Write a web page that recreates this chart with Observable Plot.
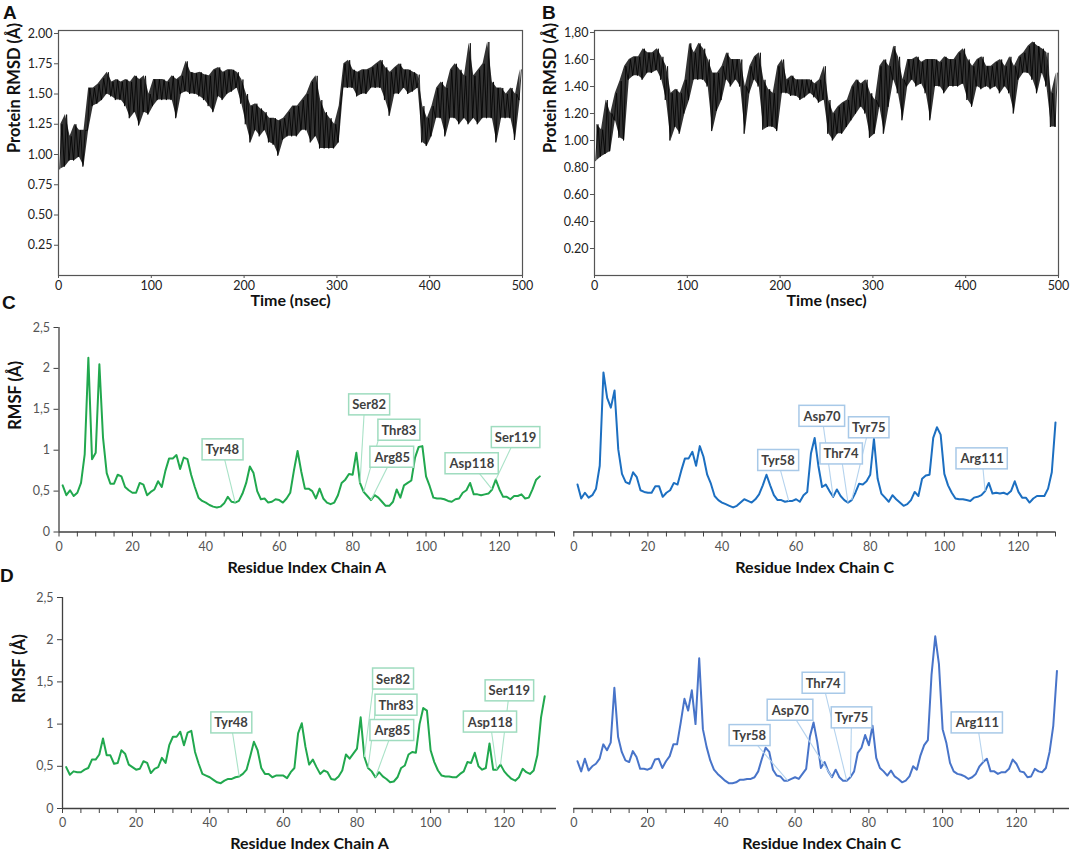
<!DOCTYPE html>
<html>
<head>
<meta charset="utf-8">
<script src="https://cdn.jsdelivr.net/npm/d3@7"></script>
<script src="https://cdn.jsdelivr.net/npm/@observablehq/plot@0.6"></script>
<style>
  body { margin: 0; background: #fff; }
  #root { position: relative; width: 1072px; height: 859px; overflow: hidden; font-family: Lato, sans-serif; background:#fff; }
  .letter { position: absolute; font-family: "Liberation Sans", Arial, sans-serif; font-weight: bold; font-size: 19px; color: #111; line-height: 1; }
</style>
</head>
<body>
<div id="root">
  <div class="letter" style="left:3px;top:3px">A</div>
  <div class="letter" style="left:542px;top:3px">B</div>
  <div class="letter" style="left:2px;top:293px">C</div>
  <div class="letter" style="left:0px;top:566px">D</div>
</div>
<script>
// ---------------- DATA ----------------
// Protein RMSD (Å), panel A: envelope per 5-ns bin (low / high)
const rmsdA_low = [0.88,0.90,0.95,0.95,0.98,0.90,1.20,1.40,1.42,1.45,
1.50,1.48,1.45,1.45,1.40,1.30,1.35,1.24,1.35,1.33,
1.40,1.45,1.45,1.45,1.45,1.30,1.50,1.52,1.50,1.50,
1.48,1.45,1.40,1.35,1.48,1.45,1.50,1.52,1.55,1.42,
1.25,1.10,1.20,1.15,1.20,1.10,1.08,0.99,1.12,1.15,
1.15,1.15,1.20,1.20,1.10,1.15,1.05,1.05,1.05,1.05,
1.10,1.55,1.55,1.55,1.48,1.50,1.50,1.55,1.55,1.55,
1.45,1.32,1.50,1.50,1.55,1.50,1.52,1.55,1.10,1.07,
1.15,1.30,1.30,1.15,1.30,1.30,1.25,1.30,1.25,1.30,
1.25,1.30,1.30,1.30,1.10,1.30,1.30,1.30,1.12,1.45];
const rmsdA_high = [1.25,1.33,1.15,1.25,1.20,1.20,1.55,1.55,1.58,1.63,
1.68,1.60,1.62,1.60,1.62,1.60,1.65,1.62,1.65,1.50,
1.62,1.62,1.62,1.60,1.65,1.62,1.65,1.77,1.68,1.67,
1.68,1.66,1.65,1.70,1.72,1.68,1.70,1.70,1.68,1.62,
1.50,1.40,1.42,1.38,1.35,1.30,1.30,1.28,1.30,1.35,
1.40,1.40,1.45,1.50,1.60,1.65,1.45,1.35,1.30,1.25,
1.40,1.75,1.78,1.70,1.68,1.70,1.70,1.72,1.75,1.78,
1.72,1.68,1.72,1.75,1.70,1.70,1.68,1.66,1.40,1.30,
1.40,1.55,1.60,1.55,1.70,1.75,1.70,1.65,1.92,1.65,
1.70,1.75,1.93,1.60,1.55,1.55,1.50,1.55,1.50,1.70];
// Protein RMSD (Å), panel B
const rmsdB_low = [0.85,0.88,0.90,0.92,1.15,1.02,1.00,1.45,1.48,1.48,
1.45,1.50,1.50,1.52,1.45,1.30,1.00,1.10,1.05,1.20,
1.30,1.45,1.45,1.45,1.40,1.07,1.22,1.30,1.45,1.40,
1.45,1.40,1.05,1.35,1.45,1.40,1.08,1.10,1.10,1.07,
1.35,1.35,1.33,1.33,1.30,1.32,1.35,1.32,1.28,1.30,
1.05,1.00,1.05,1.05,1.10,1.15,1.20,1.25,1.20,1.02,
1.05,1.25,1.05,1.25,1.45,1.35,1.15,1.40,1.45,1.40,
1.42,1.35,1.15,1.40,1.40,1.35,1.40,1.40,1.40,1.42,
1.30,1.25,1.40,1.38,1.40,1.38,1.40,1.35,1.40,1.35,
1.20,1.45,1.50,1.50,1.45,1.35,1.50,1.40,1.10,1.10];
const rmsdB_high = [1.12,1.08,1.30,1.20,1.35,1.44,1.55,1.60,1.62,1.62,
1.68,1.65,1.65,1.68,1.62,1.55,1.35,1.38,1.35,1.45,
1.72,1.65,1.72,1.68,1.60,1.50,1.50,1.55,1.65,1.60,
1.60,1.60,1.40,1.55,1.62,1.65,1.45,1.38,1.35,1.55,
1.60,1.45,1.48,1.45,1.45,1.45,1.45,1.42,1.45,1.55,
1.30,1.20,1.25,1.28,1.30,1.40,1.45,1.42,1.45,1.35,
1.30,1.55,1.60,1.55,1.70,1.62,1.45,1.60,1.60,1.62,
1.58,1.60,1.60,1.60,1.58,1.62,1.60,1.60,1.65,1.68,
1.60,1.55,1.60,1.62,1.55,1.55,1.58,1.60,1.55,1.62,
1.55,1.62,1.65,1.70,1.73,1.70,1.68,1.65,1.35,1.50];
const rmsdTimeTicks = [0,100,200,300,400,500];
const rmsdATicks = [0.25,0.5,0.75,1,1.25,1.5,1.75,2];
const rmsdATickLabels = ["0.25","0.50","0.75","1.00","1.25","1.50","1.75","2.00"];
const rmsdBTicks = [0.2,0.4,0.6,0.8,1,1.2,1.4,1.6,1.8];
const rmsdBTickLabels = ["0.20","0.40","0.60","0.80","1.00","1.20","1.40","1.60","1,80"];

// RMSF (Å) per residue (index 1..n)
const rmsfChainA_C = [
0.57,0.45,0.51,0.44,0.48,0.60,0.95,2.13,0.89,0.97,
2.05,1.15,0.72,0.59,0.59,0.70,0.68,0.55,0.51,0.48,
0.48,0.60,0.58,0.45,0.49,0.52,0.62,0.55,0.75,0.90,
0.90,0.94,0.77,0.91,0.89,0.70,0.55,0.42,0.38,0.36,
0.33,0.31,0.30,0.31,0.35,0.43,0.37,0.36,0.38,0.47,
0.60,0.80,0.72,0.50,0.40,0.41,0.36,0.37,0.40,0.39,
0.36,0.41,0.48,0.75,0.99,0.74,0.53,0.53,0.50,0.41,
0.53,0.41,0.36,0.34,0.36,0.45,0.60,0.64,0.71,0.70,
0.97,0.60,0.49,0.44,0.39,0.45,0.42,0.37,0.32,0.32,
0.37,0.52,0.42,0.57,0.60,0.63,0.91,1.04,1.05,0.68,
0.56,0.42,0.41,0.41,0.40,0.38,0.37,0.40,0.41,0.48,
0.51,0.60,0.46,0.46,0.45,0.46,0.47,0.52,0.64,0.52,
0.43,0.43,0.40,0.44,0.44,0.46,0.41,0.42,0.52,0.64,
0.68];
const rmsfChainC_C = [
0.58,0.41,0.48,0.42,0.45,0.53,0.81,1.95,1.64,1.52,
1.73,1.01,0.71,0.61,0.59,0.73,0.67,0.51,0.49,0.48,
0.48,0.56,0.56,0.43,0.48,0.51,0.60,0.58,0.75,0.90,
0.90,0.98,0.81,1.05,0.92,0.70,0.59,0.44,0.39,0.36,
0.34,0.32,0.30,0.32,0.36,0.40,0.38,0.36,0.40,0.46,
0.57,0.70,0.57,0.45,0.39,0.39,0.37,0.38,0.38,0.40,
0.37,0.45,0.49,0.96,1.15,0.81,0.55,0.58,0.50,0.43,
0.52,0.44,0.39,0.36,0.39,0.48,0.59,0.58,0.62,0.70,
1.14,0.65,0.47,0.42,0.37,0.45,0.40,0.36,0.32,0.34,
0.39,0.49,0.44,0.65,0.69,0.70,1.15,1.28,1.19,0.71,
0.57,0.48,0.41,0.40,0.40,0.39,0.38,0.42,0.43,0.45,
0.50,0.60,0.47,0.48,0.47,0.48,0.46,0.50,0.62,0.49,
0.42,0.42,0.36,0.41,0.44,0.44,0.44,0.53,0.73,1.34];
const rmsfChainA_D = [
0.49,0.40,0.44,0.43,0.43,0.46,0.48,0.58,0.58,0.64,
0.83,0.63,0.63,0.53,0.54,0.69,0.65,0.52,0.49,0.46,
0.47,0.56,0.54,0.42,0.47,0.49,0.60,0.54,0.75,0.85,
0.85,0.91,0.75,0.90,0.92,0.67,0.53,0.41,0.39,0.37,
0.34,0.31,0.30,0.33,0.35,0.35,0.37,0.38,0.41,0.46,
0.62,0.79,0.69,0.48,0.41,0.41,0.37,0.39,0.39,0.39,
0.36,0.43,0.48,0.89,1.01,0.73,0.52,0.58,0.49,0.41,
0.45,0.43,0.35,0.34,0.38,0.45,0.64,0.59,0.65,0.71,
1.08,0.61,0.48,0.44,0.37,0.43,0.38,0.35,0.31,0.32,
0.37,0.48,0.51,0.64,0.67,0.66,1.00,1.19,1.16,0.69,
0.55,0.45,0.39,0.38,0.38,0.37,0.37,0.41,0.44,0.55,
0.54,0.66,0.50,0.46,0.48,0.77,0.46,0.46,0.52,0.44,
0.39,0.35,0.33,0.37,0.47,0.43,0.41,0.45,0.63,1.08,
1.33];
const rmsfChainC_D = [
0.56,0.44,0.59,0.45,0.50,0.53,0.59,0.76,0.69,0.78,
1.43,0.85,0.67,0.57,0.55,0.68,0.61,0.47,0.47,0.46,
0.48,0.58,0.59,0.48,0.56,0.62,0.76,0.76,1.02,1.30,
1.16,1.40,1.00,1.78,0.94,0.73,0.57,0.46,0.41,0.37,
0.33,0.30,0.30,0.31,0.34,0.34,0.35,0.35,0.37,0.44,
0.59,0.72,0.67,0.46,0.39,0.38,0.33,0.33,0.35,0.37,
0.35,0.41,0.47,0.85,1.02,0.79,0.48,0.55,0.44,0.37,
0.46,0.37,0.33,0.33,0.37,0.44,0.66,0.72,0.87,0.75,
0.98,0.60,0.48,0.44,0.39,0.45,0.38,0.35,0.31,0.33,
0.38,0.50,0.46,0.63,0.75,0.81,1.59,2.04,1.71,0.94,
0.78,0.54,0.44,0.41,0.40,0.38,0.35,0.37,0.41,0.50,
0.55,0.59,0.44,0.44,0.41,0.43,0.43,0.47,0.58,0.53,
0.44,0.43,0.37,0.38,0.47,0.44,0.43,0.48,0.67,0.98,
1.63];
const rmsfYTicks = [0,0.5,1,1.5,2,2.5];
const rmsfYTickLabels = ["0","0,5","1","1,5","2","2,5"];
const residueLabelTicks = [0,20,40,60,80,100,120];

// Highlighted residues
const labelsChainA = ["Tyr48","Ser82","Thr83","Arg85","Asp118","Ser119"];
const residuesChainA = [48,82,83,85,118,119];
const labelsChainC = ["Tyr58","Asp70","Thr74","Tyr75","Arg111"];
const residuesChainC = [58,70,74,75,111];

// Callout box placement (layout, in data units) and optional leader start
const placeCA = [{lx:44.5,ly:1.0},{lx:84.5,ly:1.55,sx:83.2,sy:1.5},{lx:92.6,ly:1.24,sx:87.6,sy:1.22},{lx:90.8,ly:0.91},{lx:112.5,ly:0.83},{lx:124.4,ly:1.15}];
const placeCC = [{lx:55.1,ly:0.87},{lx:67.0,ly:1.41},{lx:72.1,ly:0.95},{lx:79.6,ly:1.27},{lx:110.2,ly:0.89}];
const placeDA = [{lx:45.8,ly:1.01},{lx:89.8,ly:1.53,sx:84.6,sy:1.52},{lx:90.6,ly:1.22,sx:85.2,sy:1.22},{lx:89.6,ly:0.92},{lx:116.2,ly:1.02},{lx:121.4,ly:1.39}];
const placeDC = [{lx:47.6,ly:0.86},{lx:58.7,ly:1.16},{lx:67.6,ly:1.48},{lx:75.3,ly:1.07},{lx:109.4,ly:1.01}];

// ---------------- DRAWING ----------------
(async function () {
  try {
    await Promise.all([
      document.fonts.load('12px Lato'),
      document.fonts.load('bold 12px Lato'),
      document.fonts.load('bold 19px "Liberation Sans"')
    ]);
  } catch (e) {}
  const root = document.getElementById('root');
  function place(svg, left, top) {
    svg.style.position = 'absolute';
    svg.style.left = left + 'px';
    svg.style.top = top + 'px';
    root.appendChild(svg);
    return svg;
  }
  const lookup = (ticks, labels) => { const m = new Map(ticks.map((t, i) => [t, labels[i]])); return d => m.get(d); };

  function rmsdPanel(o) {
    const pts = [];
    const bins = [];
    o.lo.forEach((lo, i) => {
      pts.push({t: i * 5 + 1.25, v: lo}, {t: i * 5 + 3.75, v: o.hi[i]});
      bins.push({t: i * 5 + 2.5, lo, hi: o.hi[i]});
    });
    return Plot.plot({
      width: o.width, height: 320,
      marginLeft: o.mL, marginRight: o.mR, marginTop: 30, marginBottom: 45,
      style: {fontFamily: "Lato, sans-serif", background: "transparent", overflow: "visible"},
      x: {domain: [0, 500]},
      y: {domain: o.yDomain},
      marks: [
        Plot.areaY(bins, {x: "t", y1: "lo", y2: "hi", fill: "#000", fillOpacity: 0.8}),
        Plot.line(pts, {x: "t", y: "v", stroke: "#000", strokeWidth: 0.8}),
        Plot.frame({stroke: "#555", strokeWidth: 1.2}),
        Plot.axisX({ticks: rmsdTimeTicks, tickSize: 3, tickPadding: 3, fontSize: 12.5, fill: "#222", stroke: "#555", label: null}),
        Plot.axisY({ticks: o.yTicks, tickFormat: lookup(o.yTicks, o.yLabels), tickSize: 4, tickPadding: 2, fontSize: 12.5, fill: "#222", stroke: "#555", label: null}),
        Plot.text(["Time (nsec)"], {text: d => d, frameAnchor: "bottom", dy: 30, fontWeight: "bold", fontSize: 16, fill: "#111"}),
        Plot.text(["Protein RMSD (Å)"], {text: d => d, frameAnchor: "left", dx: -44, rotate: -90, fontWeight: "bold", fontSize: 16.5, fill: "#111"})
      ]
    });
  }

  function rmsfPanel(o) {
    const pts = o.values.map((v, i) => ({r: i + 1, v}));
    const calls = o.labels.map((lab, i) => {
      const p = o.placement[i];
      return {label: lab, res: o.residues[i], tv: o.values[o.residues[i] - 1],
              lx: p.lx, ly: p.ly, sx: p.sx ?? p.lx, sy: p.sy ?? p.ly};
    });
    const marks = [
      Plot.ruleY([0], {stroke: "#404040", strokeWidth: 1.3}),
      Plot.axisX({ticks: d3.range(0, o.xMax + 0.01, 5),
                  tickFormat: d => residueLabelTicks.includes(d) ? String(d) : "",
                  tickSize: 5, tickPadding: 5, fontSize: 12.5, fill: "#555", stroke: "#404040", label: null}),
      Plot.line(pts, {x: "r", y: "v", stroke: o.color, strokeWidth: 2}),
      Plot.link(calls, {x1: "sx", y1: "sy", x2: "res", y2: "tv", stroke: o.leader, strokeWidth: 1.1}),
      Plot.text(calls, {x: "lx", y: "ly", text: "label", fontWeight: "bold", fontSize: 13, fill: "#3f3f3f"}),
      Plot.text([o.xTitle], {text: d => d, frameAnchor: "bottom", dy: o.titleDy, fontWeight: "bold", fontSize: 16, fill: "#111"})
    ];
    if (o.showY) {
      marks.unshift(
        Plot.ruleX([0], {stroke: "#404040", strokeWidth: 1.3}),
        Plot.axisY({ticks: rmsfYTicks, tickFormat: lookup(rmsfYTicks, rmsfYTickLabels), tickSize: 5, tickPadding: 4, fontSize: 12.5, fill: "#555", stroke: "#404040", label: null}),
        Plot.text(["RMSF (Å)"], {text: d => d, frameAnchor: "left", dx: o.yTitleDx, rotate: -90, fontWeight: "bold", fontSize: 16.5, fill: "#111"})
      );
    }
    return Plot.plot({
      width: o.width, height: o.height,
      marginLeft: o.mL, marginRight: o.mR, marginTop: o.mT, marginBottom: o.mB,
      style: {fontFamily: "Lato, sans-serif", background: "transparent", overflow: "visible"},
      x: {domain: [0, o.xMax]},
      y: {domain: [0, 2.5], axis: o.showY ? undefined : null},
      marks
    });
  }

  function boxCallouts(svg, labels, stroke) {
    const set = new Set(labels);
    svg.querySelectorAll('text').forEach(t => {
      if (!set.has(t.textContent.trim())) return;
      const b = t.getBBox();
      const r = document.createElementNS("http://www.w3.org/2000/svg", "rect");
      r.setAttribute("x", b.x - 3.5);
      r.setAttribute("y", b.y - 2.5);
      r.setAttribute("width", b.width + 7);
      r.setAttribute("height", b.height + 5);
      r.setAttribute("fill", "#fff");
      r.setAttribute("stroke", stroke);
      r.setAttribute("stroke-width", "1.5");
      const tr = t.getAttribute("transform");
      if (tr) r.setAttribute("transform", tr);
      t.parentNode.insertBefore(r, t);
    });
  }

  place(rmsdPanel({lo: rmsdA_low, hi: rmsdA_high, width: 540, mL: 58, mR: 18,
    yDomain: [0, 2.025], yTicks: rmsdATicks, yLabels: rmsdATickLabels}), 0, 0);
  place(rmsdPanel({lo: rmsdB_low, hi: rmsdB_high, width: 536, mL: 58, mR: 14,
    yDomain: [0, 1.815], yTicks: rmsdBTicks, yLabels: rmsdBTickLabels}), 536, 0);

  const green = "#21a84e", greenBox = "#9fdcbf", greenLead = "#a9e2c7";
  const blueBox = "#a8c9e8", blueLead = "#b5d3ee";

  const cl = place(rmsfPanel({values: rmsfChainA_C, color: green, leader: greenLead,
    labels: labelsChainA, residues: residuesChainA, placement: placeCA,
    width: 560, height: 300, mL: 58.5, mR: 6, mT: 37, mB: 58.5, xMax: 135,
    titleDy: 40.5, xTitle: "Residue Index Chain A", showY: true, yTitleDx: -43.5}), 0, 290);
  boxCallouts(cl, labelsChainA, greenBox);

  const cr = place(rmsfPanel({values: rmsfChainC_C, color: "#1c6fc1", leader: blueLead,
    labels: labelsChainC, residues: residuesChainC, placement: placeCC,
    width: 512, height: 300, mL: 13.3, mR: 17, mT: 37, mB: 58.5, xMax: 130,
    titleDy: 40.5, xTitle: "Residue Index Chain C", showY: false}), 560, 290);
  boxCallouts(cr, labelsChainC, blueBox);

  const dl = place(rmsfPanel({values: rmsfChainA_D, color: green, leader: greenLead,
    labels: labelsChainA, residues: residuesChainA, placement: placeDA,
    width: 560, height: 289, mL: 62, mR: 4, mT: 27, mB: 51, xMax: 134.2,
    titleDy: 40, xTitle: "Residue Index Chain A", showY: true, yTitleDx: -43}), 0, 570);
  boxCallouts(dl, labelsChainA, greenBox);

  const dr = place(rmsfPanel({values: rmsfChainC_D, color: "#4874c9", leader: blueLead,
    labels: labelsChainC, residues: residuesChainC, placement: placeDC,
    width: 512, height: 289, mL: 13.3, mR: 3, mT: 27, mB: 51, xMax: 134.4,
    titleDy: 40, xTitle: "Residue Index Chain C", showY: false}), 560, 570);
  boxCallouts(dr, labelsChainC, blueBox);
})();
</script>
</body>
</html>
